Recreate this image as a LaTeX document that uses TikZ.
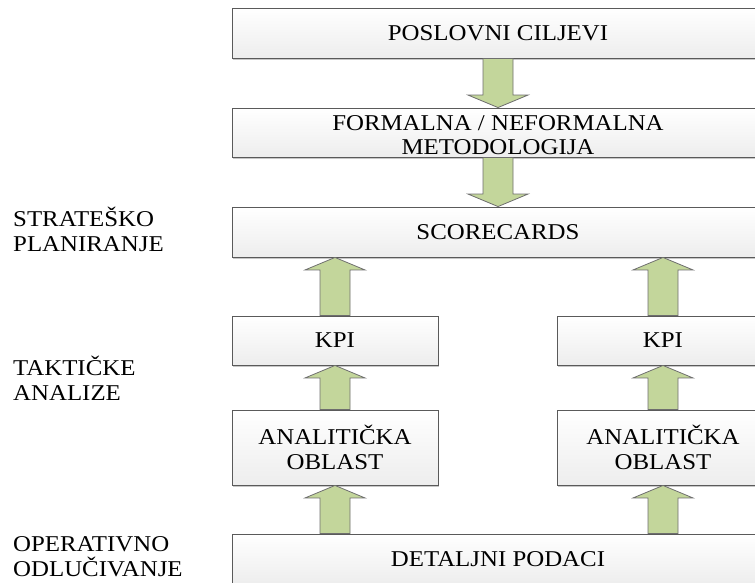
\documentclass[tikz,border=0pt]{standalone}
\usepackage{fontspec}
\setmainfont{Liberation Serif}[FakeStretch=1.1]
\usetikzlibrary{calc,shadows}

\definecolor{boxline}{HTML}{5A5A5A}
\definecolor{arrowfill}{HTML}{C3D69B}
\definecolor{arrowline}{HTML}{6E6E6E}

\tikzset{
  levelbox/.style={draw=boxline, line width=0.9pt, top color=white, bottom color=black!7,
    drop shadow={shadow xshift=0.8pt, shadow yshift=-1.6pt, opacity=0.22, fill=black},
    font=\fontsize{22.6}{24.5}\selectfont, align=center, inner sep=0pt},
  sidelabel/.style={anchor=base west, align=left, inner sep=0pt,
    font=\fontsize{22.6}{24.5}\selectfont},
  fatarrow/.style={draw=arrowline, fill=arrowfill, line width=0.8pt, line join=miter}
}

% block arrow from anchor #1 to anchor #2 (vertically aligned)
\newcommand\fatarrow[2]{%
  \draw[fatarrow]
    ($(#1)+(-15,0)$) -- ($(#2)!12.5pt!(#1)+(-15,0)$) -- ($(#2)!12.5pt!(#1)+(-30,0)$)
    -- (#2) -- ($(#2)!12.5pt!(#1)+(30,0)$) -- ($(#2)!12.5pt!(#1)+(15,0)$)
    -- ($(#1)+(15,0)$) -- cycle;}

\begin{document}
\begin{tikzpicture}[x=1pt,y=-1pt]
  \useasboundingbox (0,0) rectangle (755,582);
  \clip (0,0) rectangle (755,582);

  % stacked levels
  \node[levelbox, minimum width=532, minimum height=50] (goals) at (498,33) {POSLOVNI CILJEVI};
  \node[levelbox, minimum width=532, minimum height=49] (method) at (498,132.5) {\rule{0pt}{20pt}FORMALNA / NEFORMALNA\\METODOLOGIJA};
  \node[levelbox, minimum width=532, minimum height=50] (score) at (498,232) {SCORECARDS};
  \node[levelbox, minimum width=206, minimum height=49] (kpiL) at (335,340.5) {KPI};
  \node[levelbox, minimum width=212, minimum height=49] (kpiR) at (663,340.5) {KPI};
  \node[levelbox, minimum width=206, minimum height=75] (anaL) at (335,447.5) {\rule{0pt}{18pt}ANALITIČKA\\OBLAST};
  \node[levelbox, minimum width=212, minimum height=75] (anaR) at (663,447.5) {\rule{0pt}{18pt}ANALITIČKA\\OBLAST};
  \node[levelbox, minimum width=532, minimum height=50] (detail) at (498,559) {DETALJNI PODACI};

  % side captions (base anchor sits on the last line)
  \node[sidelabel] (lblS) at (13,251) {STRATEŠKO\\PLANIRANJE};
  \node[sidelabel] (lblT) at (13,400) {TAKTIČKE\\ANALIZE};
  \node[sidelabel] (lblO) at (13,576) {OPERATIVNO\\ODLUČIVANJE};

  % attachment points on the wide boxes
  \coordinate (sL) at (kpiL.north |- score.south);
  \coordinate (sR) at (kpiR.north |- score.south);
  \coordinate (dL) at (anaL.south |- detail.north);
  \coordinate (dR) at (anaR.south |- detail.north);

  % flow arrows
  \fatarrow{goals.south}{method.north}
  \fatarrow{method.south}{score.north}
  \fatarrow{kpiL.north}{sL}
  \fatarrow{kpiR.north}{sR}
  \fatarrow{anaL.north}{kpiL.south}
  \fatarrow{anaR.north}{kpiR.south}
  \fatarrow{dL}{anaL.south}
  \fatarrow{dR}{anaR.south}
\end{tikzpicture}
\end{document}
